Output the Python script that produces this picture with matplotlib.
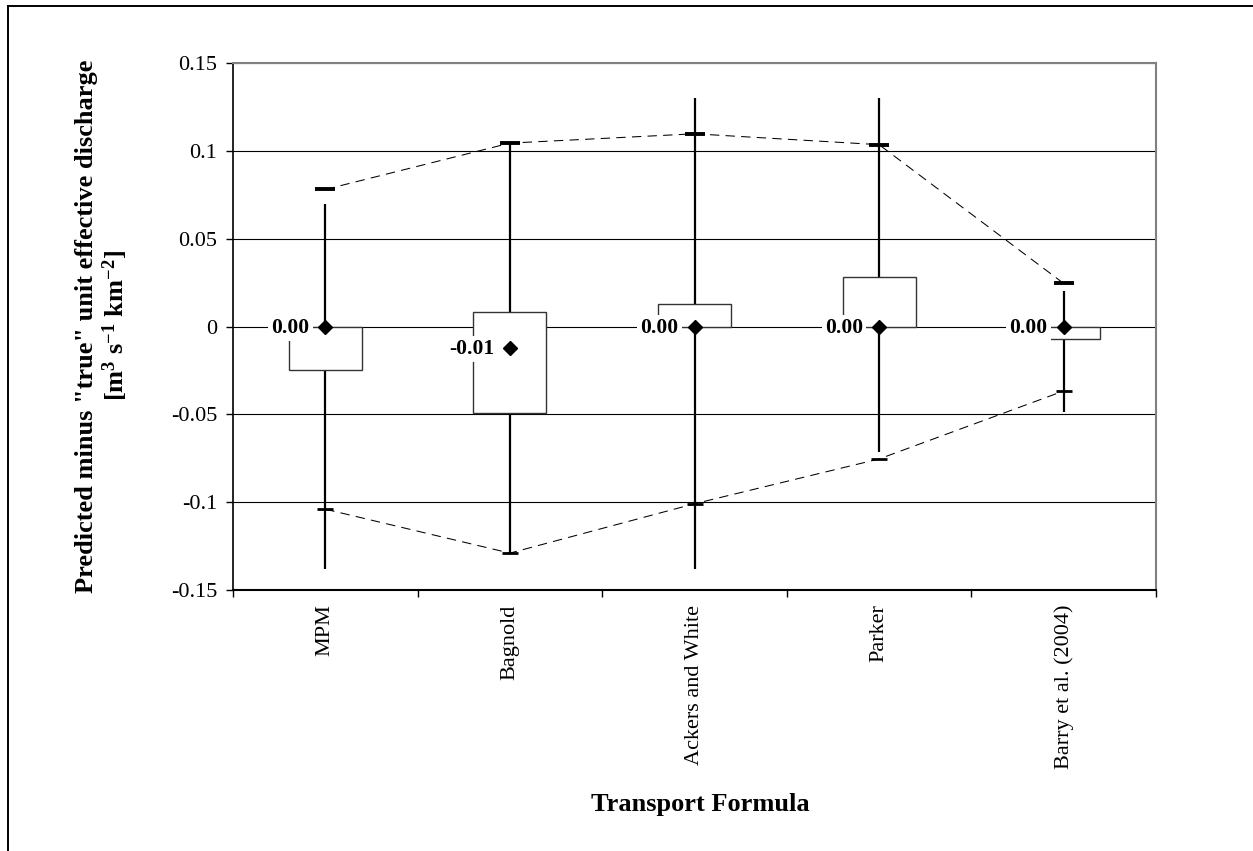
import matplotlib
matplotlib.use("Agg")
import matplotlib.pyplot as plt
from matplotlib.lines import Line2D
import numpy as np

# ---------------- data ----------------
categories = ["MPM", "Bagnold", "Ackers and White", "Parker", "Barry et al. (2004)"]
whisker_min = [-0.138, -0.129, -0.138, -0.0713, -0.0489]
whisker_max = [0.070, 0.105, 0.130, 0.130, 0.020]
box_low = [-0.025, -0.0495, 0.0, 0.0, -0.0071]
box_high = [0.0, 0.0082, 0.0128, 0.0281, 0.0]
means = [0.0, -0.012, 0.0, 0.0, 0.0]
upper_pct = [0.078, 0.1044, 0.1097, 0.1035, 0.0245]
lower_pct = [-0.104, -0.129, -0.1009, -0.0754, -0.0367]
ytick_vals = [-0.15, -0.1, -0.05, 0, 0.05, 0.1, 0.15]
ytick_labels = ["-0.15", "-0.1", "-0.05", "0", "0.05", "0.1", "0.15"]

# ---------------- style ----------------
plt.rcParams['font.family'] = ['Liberation Serif', 'DejaVu Serif']
plt.rcParams['axes.unicode_minus'] = False
plt.rcParams['mathtext.fontset'] = 'custom'
plt.rcParams['mathtext.rm'] = 'Liberation Serif:bold'
plt.rcParams['mathtext.it'] = 'Liberation Serif:italic:bold'
plt.rcParams['mathtext.bf'] = 'Liberation Serif:bold'
plt.rcParams['mathtext.default'] = 'rm'

W, H = 1253, 851
fig = plt.figure(figsize=(W / 100, H / 100), dpi=100)
ax = fig.add_axes([233 / W, 1 - 590 / H, (1156 - 233) / W, (590 - 63) / H])

x = np.arange(len(categories))

# whiskers
ax.vlines(x, whisker_min, whisker_max, color='black', lw=1.6, zorder=2)
# boxes
ax.bar(x, np.array(box_high) - np.array(box_low), bottom=box_low, width=0.395,
       color='white', edgecolor='#333333', linewidth=1.0, zorder=3)
# dashed percentile lines
ax.plot(x, upper_pct, color='black', lw=0.75, ls=(0, (9, 6)), zorder=3.5)
ax.plot(x, lower_pct, color='black', lw=0.75, ls=(0, (9, 6)), zorder=3.5)
ax.plot(x, upper_pct, ls='none', marker='_', ms=14.5, mew=2.8, color='black', zorder=4)
ax.plot(x, lower_pct, ls='none', marker='_', ms=11, mew=2.0, color='black', zorder=4)
# labels
for xi, m in zip(x, means):
    ax.annotate(f"{m:.2f}", (xi, m), xytext=(-11.5, -1.2), textcoords='offset points',
                ha='right', va='center', fontsize=15.5, fontweight='bold', zorder=4.5,
                bbox=dict(boxstyle='square,pad=0.15', fc='white', ec='none'))
# means
ax.plot(x, means, ls='none', marker='D', ms=7.5, color='black', zorder=5)

# axes
ax.set_xlim(-0.5, len(categories) - 0.5)
ax.set_ylim(-0.15, 0.15)
ax.set_yticks(ytick_vals)
ax.set_yticklabels(ytick_labels)
ax.tick_params(axis='y', which='major', direction='out', length=5, width=1,
               pad=6.5, labelsize=16, right=False)
ax.set_xticks(np.arange(-0.5, len(categories)), labels=[""] * (len(categories) + 1))
ax.set_xticks(x, labels=categories, minor=True)
ax.tick_params(axis='x', which='major', direction='out', length=5, width=1, top=False)
ax.tick_params(axis='x', which='minor', length=0, pad=10.5, labelsize=16,
               labelrotation=90, top=False)

ax.set_axisbelow(True)
ax.yaxis.grid(True, color='black', lw=0.8)
ax.xaxis.grid(False)
ax.spines['top'].set_color('#808080')
ax.spines['right'].set_color('#808080')
ax.spines['top'].set_linewidth(1.5)
ax.spines['right'].set_linewidth(1.5)
ax.spines['left'].set_color('black')
ax.spines['left'].set_linewidth(1.2)
ax.spines['bottom'].set_color('black')
ax.spines['bottom'].set_linewidth(1.5)

# axis titles
fig.text(700 / W, 1 - 805 / H, "Transport Formula", ha='center', va='center',
         fontsize=19, fontweight='bold')
fig.text(87 / W, 1 - 326 / H, 'Predicted minus "true" unit effective discharge',
         rotation=90, ha='center', va='center', fontsize=19, fontweight='bold')
fig.text(115 / W, 1 - 326 / H, r'[m$^{3}$ s$^{-1}$ km$^{-2}$]',
         rotation=90, ha='center', va='center', fontsize=19, fontweight='bold')

# outer frame (left and top edges visible)
fig.add_artist(Line2D([7.5 / W, 7.5 / W], [0, 1 - 6 / H], color='black', lw=1.4,
                      transform=fig.transFigure))
fig.add_artist(Line2D([7.5 / W, 1], [1 - 6 / H, 1 - 6 / H], color='black', lw=1.4,
                      transform=fig.transFigure))

fig.savefig("out.png", dpi=100, facecolor='white')
